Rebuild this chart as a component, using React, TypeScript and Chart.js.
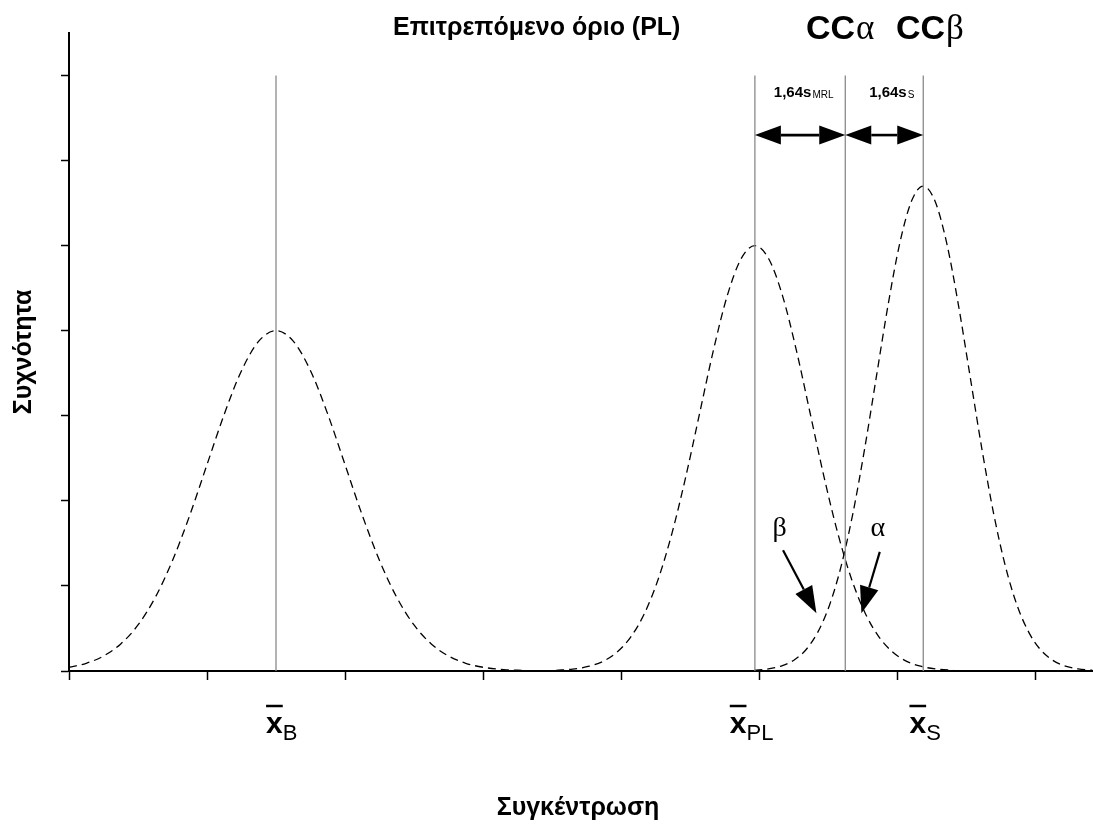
import React, { useEffect, useRef } from "react";
import { Chart, registerables } from "chart.js";

Chart.register(...registerables);

// ---- data ----
const xTicks = [0, 1, 2, 3, 4, 5, 6, 7];
const yTicks = [0, 1, 2, 3, 4, 5, 6, 7];
const X_MAX = 7.42;
const Y_MAX = 7.5;

const blankX = [0, 0.125, 0.25, 0.375, 0.5, 0.625, 0.75, 0.875, 1.0, 1.125, 1.25, 1.375, 1.5, 1.625, 1.75, 1.875, 2.0, 2.125, 2.25, 2.375, 2.5, 2.625, 2.75, 2.875, 3.0, 3.15, 3.3];
const blankY = [0.044, 0.091, 0.176, 0.318, 0.541, 0.865, 1.299, 1.831, 2.426, 3.019, 3.53, 3.877, 4.0, 3.877, 3.53, 3.019, 2.426, 1.831, 1.299, 0.865, 0.541, 0.318, 0.176, 0.091, 0.044, 0.017, 0.006];

const plX = [3.53, 3.65, 3.77, 3.87, 3.97, 4.07, 4.17, 4.27, 4.37, 4.47, 4.57, 4.67, 4.77, 4.87, 4.97, 5.07, 5.17, 5.27, 5.37, 5.47, 5.57, 5.67, 5.77, 5.87, 5.97, 6.07, 6.17, 6.29, 6.41];
const plY = [0.008, 0.022, 0.056, 0.114, 0.22, 0.398, 0.677, 1.082, 1.624, 2.289, 3.033, 3.774, 4.413, 4.846, 5.0, 4.846, 4.413, 3.774, 3.033, 2.289, 1.624, 1.082, 0.677, 0.398, 0.22, 0.114, 0.056, 0.022, 0.008];

const sampleX = [4.966, 5.068, 5.17, 5.255, 5.34, 5.425, 5.51, 5.595, 5.68, 5.765, 5.85, 5.935, 6.02, 6.105, 6.19, 6.275, 6.36, 6.445, 6.53, 6.615, 6.7, 6.785, 6.87, 6.955, 7.04, 7.125, 7.21, 7.312, 7.414];
const sampleY = [0.009, 0.025, 0.063, 0.13, 0.25, 0.454, 0.771, 1.233, 1.851, 2.609, 3.457, 4.302, 5.03, 5.524, 5.7, 5.524, 5.03, 4.302, 3.457, 2.609, 1.851, 1.233, 0.771, 0.454, 0.25, 0.13, 0.063, 0.025, 0.009];

// vertical reference lines: x̄B, x̄PL, CCα, x̄S
const refLineX = [1.5, 4.97, 5.625, 6.19];
const refLineTop = 7;

// double arrows 1,64 s
const spanArrowY = 6.3;
const spanFrom = [4.97, 5.625];
const spanTo = [5.625, 6.19];
const spanLabelX = [5.32, 5.958];
const spanLabelY = 6.75;
const spanMain = ["1,64s", "1,64s"];
const spanSub = ["MRL", "S"];

// error arrows β / α
const errFromX = [5.174, 5.875];
const errFromY = [1.42, 1.4];
const errToX = [5.416, 5.742];
const errToY = [0.678, 0.678];
const errLabel = ["β", "α"];
const errLabelX = [5.15, 5.86];
const errLabelY = 1.59;

// mean labels under axis
const meanLabelX = [1.428, 4.788, 6.09];
const meanLabelSub = ["B", "PL", "S"];

const titleText = "Επιτρεπόμενο όριο (PL)";
const xTitle = "Συγκέντρωση";
const yTitle = "Συχνότητα";

const SANS = '"Liberation Sans", Arial, sans-serif';
const SERIF = '"Liberation Serif", "Times New Roman", serif';

function pts(xs: number[], ys: number[]) {
  return xs.map((x, i) => ({ x, y: ys[i] }));
}

function arrowHead(ctx: CanvasRenderingContext2D, fx: number, fy: number, tx: number, ty: number, len: number, half: number) {
  const dx = tx - fx, dy = ty - fy;
  const d = Math.hypot(dx, dy) || 1;
  const ux = dx / d, uy = dy / d;
  const bx = tx - ux * len, by = ty - uy * len;
  ctx.beginPath();
  ctx.moveTo(tx, ty);
  ctx.lineTo(bx - uy * half, by + ux * half);
  ctx.lineTo(bx + uy * half, by - ux * half);
  ctx.closePath();
  ctx.fill();
  return [bx, by];
}

const annotPlugin = {
  id: "annot",
  afterDraw(chart: any) {
    const { ctx, chartArea } = chart;
    const xs = chart.scales.x, ys = chart.scales.y;
    const px = (v: number) => xs.getPixelForValue(v);
    const py = (v: number) => ys.getPixelForValue(v);
    ctx.save();
    ctx.fillStyle = "#000";
    ctx.strokeStyle = "#000";

    // double arrows
    ctx.lineWidth = 2.6;
    for (let i = 0; i < spanFrom.length; i++) {
      const x1 = px(spanFrom[i]), x2 = px(spanTo[i]), y = py(spanArrowY);
      const [b1x] = arrowHead(ctx, x2, y, x1, y, 26, 9.5);
      const [b2x] = arrowHead(ctx, x1, y, x2, y, 26, 9.5);
      ctx.beginPath();
      ctx.moveTo(b1x, y);
      ctx.lineTo(b2x, y);
      ctx.stroke();
      // label
      ctx.textBaseline = "alphabetic";
      ctx.textAlign = "left";
      const mainFont = `bold 15px ${SANS}`;
      const subFont = `10px ${SANS}`;
      ctx.font = mainFont;
      const w1 = ctx.measureText(spanMain[i]).width;
      ctx.font = subFont;
      const w2 = ctx.measureText(spanSub[i]).width;
      const sx = px(spanLabelX[i]) - (w1 + w2) / 2;
      const sy = py(spanLabelY);
      ctx.font = mainFont;
      ctx.fillText(spanMain[i], sx, sy);
      ctx.font = subFont;
      ctx.fillText(spanSub[i], sx + w1 + 1, sy + 1);
    }

    // error arrows
    ctx.lineWidth = 2.2;
    for (let i = 0; i < errFromX.length; i++) {
      const fx = px(errFromX[i]), fy = py(errFromY[i]);
      const tx = px(errToX[i]), ty = py(errToY[i]);
      const [bx, by] = arrowHead(ctx, fx, fy, tx, ty, 27, 9.5);
      ctx.beginPath();
      ctx.moveTo(fx, fy);
      ctx.lineTo(bx, by);
      ctx.stroke();
      ctx.font = `28px ${SERIF}`;
      ctx.textAlign = "center";
      ctx.fillText(errLabel[i], px(errLabelX[i]), py(errLabelY));
    }

    // mean labels
    const base = chartArea.bottom + 62;
    for (let i = 0; i < meanLabelX.length; i++) {
      const lx = px(meanLabelX[i]);
      ctx.textAlign = "left";
      ctx.font = `bold 30px ${SANS}`;
      const wx = ctx.measureText("x").width;
      ctx.fillText("x", lx, base);
      ctx.lineWidth = 2.5;
      ctx.beginPath();
      ctx.moveTo(lx, base - 27);
      ctx.lineTo(lx + wx, base - 27);
      ctx.stroke();
      ctx.font = `22px ${SANS}`;
      ctx.fillText(meanLabelSub[i], lx + wx, base + 7);
    }

    // title texts
    ctx.textAlign = "left";
    ctx.font = `bold 25px ${SANS}`;
    ctx.fillText(titleText, 393, 35);

    // CCα CCβ
    const ccParts: [string, string][] = [["CC", "α"], ["CC", "β"]];
    const ccX = [806, 896];
    for (let i = 0; i < 2; i++) {
      ctx.font = `bold 34px ${SANS}`;
      const w = ctx.measureText(ccParts[i][0]).width;
      ctx.fillText(ccParts[i][0], ccX[i], 39);
      ctx.font = `35px ${SERIF}`;
      ctx.fillText(ccParts[i][1], ccX[i] + w + 1, 39);
    }

    // axis titles
    ctx.font = `bold 25px ${SANS}`;
    ctx.textAlign = "center";
    ctx.fillText(xTitle, 578, 815);
    ctx.save();
    ctx.translate(31, 352);
    ctx.rotate(-Math.PI / 2);
    ctx.fillText(yTitle, 0, 0);
    ctx.restore();

    ctx.restore();
  },
};

export default function App() {
  const ref = useRef<HTMLCanvasElement | null>(null);
  useEffect(() => {
    if (!ref.current) return;
    const curveStyle = {
      borderColor: "#000",
      borderWidth: 1.3,
      borderDash: [8, 5],
      pointRadius: 0,
      cubicInterpolationMode: "monotone" as const,
      fill: false,
    };
    const refDatasets = refLineX.map((v) => ({
      data: [{ x: v, y: 0 }, { x: v, y: refLineTop }],
      borderColor: "#8a8a8a",
      borderWidth: 1.3,
      pointRadius: 0,
      tension: 0,
    }));
    const chart = new Chart(ref.current, {
      type: "line",
      data: {
        datasets: [
          ...refDatasets,
          { ...curveStyle, data: pts(blankX, blankY) },
          { ...curveStyle, data: pts(plX, plY) },
          { ...curveStyle, data: pts(sampleX, sampleY) },
        ] as any,
      },
      options: {
        responsive: false,
        animation: false,
        devicePixelRatio: 1,
        layout: { padding: { top: 33, right: 0, left: 0, bottom: 0 } },
        plugins: { legend: { display: false }, tooltip: { enabled: false }, title: { display: false } },
        events: [],
        scales: {
          x: {
            type: "linear",
            min: 0,
            max: X_MAX,
            afterBuildTicks: (s: any) => { s.ticks = xTicks.map((v) => ({ value: v })); },
            afterFit: (s: any) => { s.height = 155; },
            ticks: { display: false },
            grid: { drawOnChartArea: false, drawTicks: true, tickLength: 9, tickColor: "#000", tickWidth: 1.5 },
            border: { display: true, color: "#000", width: 2 },
          },
          y: {
            type: "linear",
            min: 0,
            max: Y_MAX,
            afterBuildTicks: (s: any) => { s.ticks = yTicks.map((v) => ({ value: v })); },
            afterFit: (s: any) => { s.width = 69; },
            ticks: { display: false },
            grid: { drawOnChartArea: false, drawTicks: true, tickLength: 8, tickColor: "#000", tickWidth: 1.5 },
            border: { display: true, color: "#000", width: 2 },
          },
        },
      } as any,
      plugins: [annotPlugin],
    });
    return () => chart.destroy();
  }, []);
  return (
    <div style={{ position: "absolute", left: 0, top: 0, width: 1093, height: 826, background: "#fff" }}>
      <canvas ref={ref} width={1093} height={826} style={{ width: 1093, height: 826, display: "block" }} />
    </div>
  );
}
